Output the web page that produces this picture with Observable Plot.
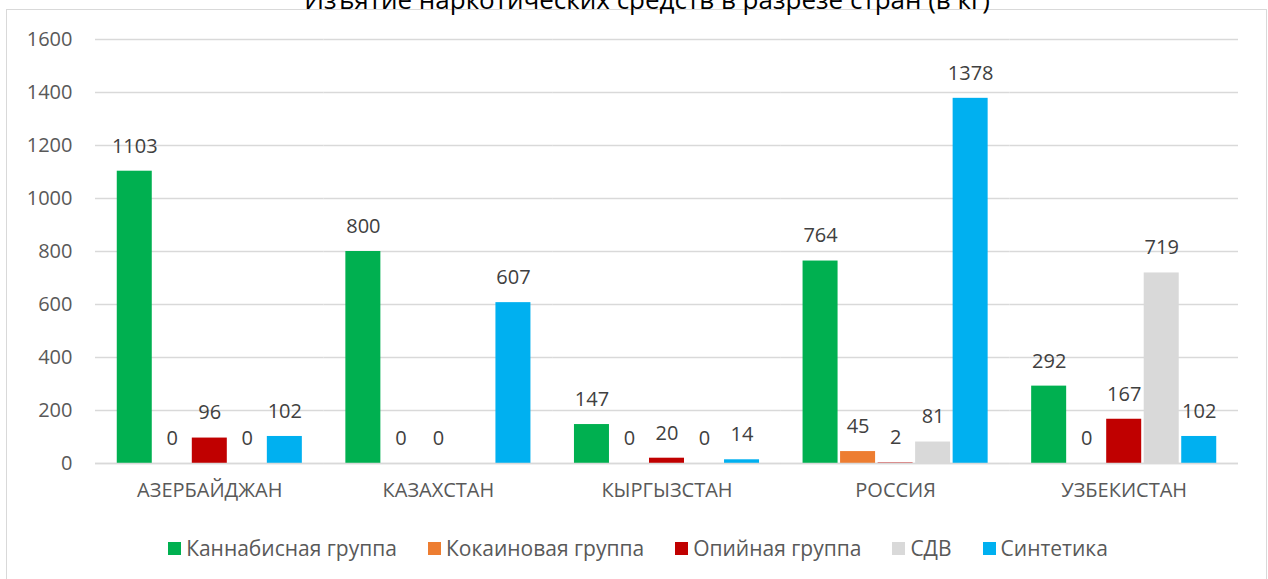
<!DOCTYPE html>
<html>
<head>
<meta charset="utf-8">
<script src="https://cdn.jsdelivr.net/npm/d3@7"></script>
<script src="https://cdn.jsdelivr.net/npm/@observablehq/plot@0.6"></script>
<style>
  html, body { margin: 0; padding: 0; background: #fff; width: 1268px; height: 579px; overflow: hidden; position: relative; }
  #frame { position: absolute; left: 6px; top: 9px; width: 1261px; height: 620px; border: 1.5px solid #d9d9d9; box-sizing: border-box; }
  #title { position: absolute; left: 0; width: 1294px; top: -14px; text-align: center; font-family: "Open Sans", sans-serif; font-size: 26px; line-height: 26px; color: #000; white-space: nowrap; }
  #chart { position: absolute; left: 0; top: 0; }
  #legend { position: absolute; left: 7px; width: 1262px; top: 534px; display: flex; justify-content: center; gap: 31px; font-family: "Open Sans", sans-serif; font-size: 21px; color: #595959; }
  .item { display: flex; align-items: center; }
  .sw { width: 13px; height: 13px; margin-right: 5px; }
</style>
</head>
<body>
<div id="frame"></div>
<div id="title">Изъятие наркотических средств в разрезе стран (в кг)</div>
<div id="chart"></div>
<div id="legend"></div>
<script>
const countries = ["АЗЕРБАЙДЖАН", "КАЗАХСТАН", "КЫРГЫЗСТАН", "РОССИЯ", "УЗБЕКИСТАН"];
const types = ["Каннабисная группа", "Кокаиновая группа", "Опийная группа", "СДВ", "Синтетика"];
const cannabis = [1103, 800, 147, 764, 292];
const cocaine = [0, 0, 0, 45, 0];
const opium = [96, 0, 20, 2, 167];
const sdv = [0, null, 0, 81, 719];
const synthetic = [102, 607, 14, 1378, 102];
const colors = ["#00b050", "#ed7d31", "#c00000", "#d9d9d9", "#00b0f0"];
const yTicks = [0, 200, 400, 600, 800, 1000, 1200, 1400, 1600];

const series = [cannabis, cocaine, opium, sdv, synthetic];
const data = [];
countries.forEach((c, i) => {
  types.forEach((t, j) => {
    data.push({country: c, type: t, value: series[j][i]});
  });
});
const labeled = data.filter(d => d.value != null);

const chart = Plot.plot({
  width: 1268,
  height: 520,
  marginTop: 39,
  marginBottom: 57,
  marginLeft: 95,
  marginRight: 30,
  style: {fontFamily: "Open Sans, sans-serif", fontSize: "20px", color: "#595959", background: "transparent"},
  fx: {domain: countries, padding: 0, round: false, label: null},
  x: {domain: types, paddingInner: 0.067, paddingOuter: 0.58, round: false, axis: null},
  y: {domain: [0, 1600], label: null},
  color: {domain: types, range: colors},
  marks: [
    Plot.gridY(yTicks, {stroke: "#d9d9d9", strokeOpacity: 1, strokeWidth: 1.5}),
    Plot.axisY(yTicks, {tickSize: 0, tickPadding: 23, label: null, fontSize: 20, tickFormat: d => String(d)}),
    Plot.axisFx({anchor: "bottom", tickSize: 0, tickPadding: 19, label: null, fontSize: 20}),
    Plot.barY(labeled, {fx: "country", x: "type", y: "value", fill: "type"}),
    Plot.ruleY([0], {stroke: "#d9d9d9", strokeWidth: 1.5}),
    Plot.text(labeled, {fx: "country", x: "type", y: "value", text: d => String(d.value), dy: -25, fill: "#404040", fontSize: 20, lineAnchor: "middle"})
  ]
});
document.getElementById("chart").appendChild(chart);

const legend = document.getElementById("legend");
types.forEach((t, j) => {
  const it = document.createElement("div");
  it.className = "item";
  const sw = document.createElement("span");
  sw.className = "sw";
  sw.style.background = colors[j];
  const tx = document.createElement("span");
  tx.textContent = t;
  it.appendChild(sw);
  it.appendChild(tx);
  legend.appendChild(it);
});
</script>
</body>
</html>
